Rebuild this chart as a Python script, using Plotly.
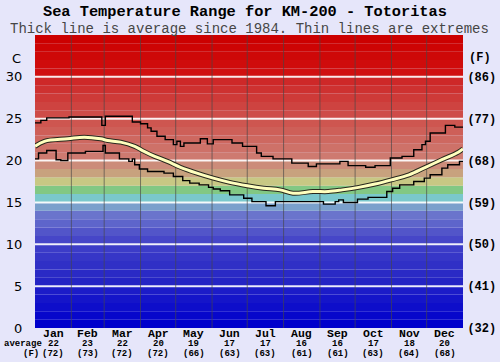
import plotly.graph_objects as go

# ---------------- data ----------------
months = ["Jan", "Feb", "Mar", "Apr", "May", "Jun", "Jul", "Aug", "Sep", "Oct", "Nov", "Dec"]
month_start_days = [0, 31, 59, 90, 120, 151, 181, 212, 243, 273, 304, 334, 365]
avg_c_labels = ["22", "23", "22", "20", "19", "17", "17", "16", "16", "17", "18", "20"]
avg_f_labels = ["(72)", "(73)", "(72)", "(72)", "(66)", "(63)", "(63)", "(61)", "(61)", "(63)", "(64)", "(68)"]

c_ticks = [0, 5, 10, 15, 20, 25, 30]
f_tick_labels = ["(32)", "(41)", "(50)", "(59)", "(68)", "(77)", "(86)"]

avg_days = [0, 8, 28, 42, 56, 62, 73, 85, 93, 102, 113, 124, 138, 152, 166, 181, 195,
            209, 220, 237, 250, 262, 276, 290, 304, 319, 333, 347, 361, 365]
avg_vals = [21.7, 22.3, 22.6, 22.8, 22.6, 22.4, 22.2, 21.7, 21.1, 20.5, 19.9, 19.2, 18.5,
            17.9, 17.4, 17.0, 16.7, 16.5, 16.1, 16.3, 16.3, 16.5, 16.8, 17.2, 17.7, 18.3,
            19.2, 20.1, 21.0, 21.4]

max_days = [0, 5, 10, 29, 57, 60, 83, 90, 96, 99, 104, 111, 118, 121, 124, 127, 141, 147,
            152, 168, 177, 189, 193, 203, 219, 233, 240, 260, 267, 282, 290, 303, 313, 323,
            330, 333, 337, 350, 358, 365]
max_vals = [24.5, 24.8, 25.1, 25.2, 24.2, 25.3, 24.6, 24.4, 23.9, 23.5, 22.9, 22.5, 21.9,
            22.3, 21.7, 22.1, 22.6, 22.0, 22.5, 22.1, 21.7, 20.9, 20.5, 20.2, 19.7, 19.3,
            19.6, 19.9, 19.4, 19.2, 19.4, 20.3, 20.5, 21.3, 21.9, 22.3, 23.3, 24.2, 24.0, 24.0]

min_days = [0, 3, 10, 18, 22, 28, 43, 58, 60, 72, 80, 83, 85, 89, 96, 110, 118, 126, 132,
            140, 148, 152, 158, 166, 178, 185, 197, 205, 246, 256, 259, 263, 275, 284, 300,
            305, 311, 323, 332, 337, 347, 352, 362, 365]
min_vals = [20.2, 20.9, 21.2, 20.1, 20.0, 20.9, 21.1, 21.8, 20.9, 20.2, 19.9, 20.2, 19.5,
            19.0, 18.7, 18.5, 18.1, 17.6, 17.3, 17.1, 16.8, 16.6, 16.4, 15.9, 15.5, 15.1,
            14.6, 15.1, 14.8, 15.1, 15.3, 15.0, 15.4, 15.6, 16.3, 16.7, 17.1, 17.5, 17.9,
            18.3, 19.1, 19.5, 19.9, 19.9]

# ---------------- styling helpers ----------------
def lerp(c1, c2, t):
    return tuple(round(a + (b - a) * t) for a, b in zip(c1, c2))

def band_color(lo):
    if lo >= 30:
        c = lerp((208, 16, 16), (204, 0, 0), (lo - 30) / 4)
    elif lo >= 20:
        c = lerp((206, 122, 112), (206, 40, 40), (lo - 20) / 9)
    elif lo == 19:
        c = (204, 140, 122)
    elif lo == 18:
        c = (200, 162, 126)
    elif lo == 17:
        c = (200, 200, 132)
    elif lo == 16:
        c = (130, 200, 132)
    elif lo == 15:
        c = (122, 200, 204)
    elif lo == 14:
        c = (122, 160, 204)
    elif lo >= 10:
        c = lerp((70, 70, 200), (106, 116, 204), (lo - 10) / 3)
    elif lo >= 5:
        c = lerp((36, 36, 196), (60, 60, 200), (lo - 5) / 4)
    else:
        c = lerp((0, 0, 204), (28, 28, 200), lo / 4)
    return "rgb(%d,%d,%d)" % c

BG = "rgb(230,230,250)"
MONO = "Liberation Mono, Courier New, monospace"

shapes = []
for lo in range(0, 35):
    shapes.append(dict(type="rect", xref="paper", yref="y", x0=0, x1=1, y0=lo, y1=lo + 1,
                       fillcolor=band_color(lo), line=dict(width=0), layer="below"))
for v in c_ticks[1:]:
    shapes.append(dict(type="line", xref="paper", yref="y", x0=0, x1=1, y0=v, y1=v,
                       line=dict(color="rgba(255,255,255,0.9)", width=2), layer="below"))
for d in month_start_days[1:-1]:
    shapes.append(dict(type="line", xref="x", yref="paper", x0=d, x1=d, y0=0, y1=1,
                       line=dict(color="rgba(70,70,70,0.65)", width=1), layer="below"))

fig = go.Figure()
fig.add_trace(go.Scatter(x=max_days, y=max_vals, mode="lines", line_shape="hv",
                         line=dict(color="black", width=1.4), hoverinfo="skip"))
fig.add_trace(go.Scatter(x=min_days, y=min_vals, mode="lines", line_shape="hv",
                         line=dict(color="black", width=1.4), hoverinfo="skip"))
fig.add_trace(go.Scatter(x=avg_days, y=avg_vals, mode="lines", line_shape="spline",
                         line=dict(color="rgb(40,40,30)", width=5), hoverinfo="skip"))
fig.add_trace(go.Scatter(x=avg_days, y=avg_vals, mode="lines", line_shape="spline",
                         line=dict(color="rgb(255,255,190)", width=3), hoverinfo="skip"))
fig.add_trace(go.Scatter(x=[0], y=[0], yaxis="y2", mode="markers",
                         marker=dict(opacity=0), hoverinfo="skip"))

def ann(text, x, y, xref, yref, size, family=MONO, color="black", **kw):
    d = dict(text=text, x=x, y=y, xref=xref, yref=yref, showarrow=False, borderpad=0,
             yanchor="middle", font=dict(family=family, size=size, color=color))
    d.update(kw)
    return d

annotations = [
    ann("<b>Sea Temperature Range for KM-200 - Totoritas</b>", 0.49, 1, "paper", "paper", 15.3,
        yshift=23.5),
    ann("Thick line is average since 1984. Thin lines are extremes", 0.5, 1, "paper", "paper", 14,
        color="rgb(70,70,70)", yshift=6),
    ann("C", 0, 32.2, "paper", "y", 13, family="DejaVu Sans", xanchor="right", xshift=-13),
    ann("<b>(F)</b>", 1, 32.2, "paper", "y", 12, xanchor="left", xshift=5),
    ann("<b>average</b>", 0, 0, "paper", "paper", 9, xanchor="right", xshift=8, yshift=-16),
    ann("<b>(F)</b>", 0, 0, "paper", "paper", 9, xshift=-13, yshift=-26),
]
for i, m in enumerate(months):
    mid = (month_start_days[i] + month_start_days[i + 1]) / 2
    annotations.append(ann("<b>%s</b>" % m, mid, 0, "x", "paper", 11.5, yshift=-5.5))
    annotations.append(ann("<b>%s</b>" % avg_c_labels[i], mid, 0, "x", "paper", 9, yshift=-16))
    annotations.append(ann("<b>%s</b>" % avg_f_labels[i], mid, 0, "x", "paper", 9, yshift=-26))

fig.update_layout(
    width=500, height=362,
    margin=dict(l=35, r=37, t=35, b=34, pad=0, autoexpand=False),
    paper_bgcolor=BG, plot_bgcolor=BG,
    showlegend=False,
    shapes=shapes,
    annotations=annotations,
    xaxis=dict(range=[0, 365], showgrid=False, zeroline=False, showticklabels=False,
               ticks="", automargin=False),
    yaxis=dict(range=[0, 35], tickvals=c_ticks, ticktext=[str(v) for v in c_ticks],
               showgrid=False, zeroline=False, ticks="outside", ticklen=9, tickcolor=BG,
               automargin=False,
               tickfont=dict(family="DejaVu Sans", size=13, color="black")),
    yaxis2=dict(range=[0, 35], overlaying="y", side="right", tickvals=c_ticks,
                ticktext=["<b>%s</b>" % t for t in f_tick_labels], automargin=False,
                showgrid=False, zeroline=False, ticks="outside", ticklen=1, tickcolor=BG,
                tickfont=dict(family=MONO, size=12, color="black")),
)

fig.write_html("out.html", config={"displayModeBar": False},
               post_script="document.body.style.margin='0';document.body.style.padding='0';")
